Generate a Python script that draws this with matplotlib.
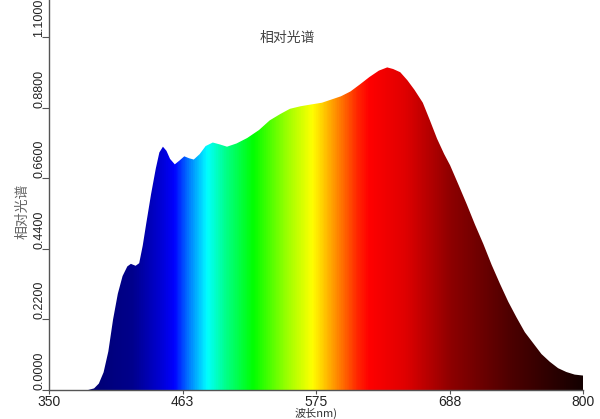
import numpy as np
import matplotlib.pyplot as plt
from matplotlib.colors import LinearSegmentedColormap
from matplotlib.patches import Polygon

# spectrum (nm, relative intensity)
wavelength = [383, 388, 392, 396, 400, 404, 408, 412, 416, 419, 423, 426, 429, 432,
              436, 440, 443, 446, 449, 452, 456, 460, 464, 468, 472, 477, 482, 488,
              494, 500, 508, 517, 527, 536, 545, 553, 562, 570, 580, 588, 596, 604,
              612, 620, 628, 635, 640, 646, 652, 658, 665, 671, 677, 683, 688, 695,
              702, 709, 716, 723, 730, 737, 744, 751, 758, 765, 772, 779, 786, 793, 800]
intensity = [0.0, 0.005, 0.02, 0.055, 0.12, 0.22, 0.30, 0.355, 0.385, 0.393, 0.387, 0.395,
             0.45, 0.52, 0.61, 0.69, 0.74, 0.758, 0.745, 0.72, 0.703, 0.715, 0.728, 0.722,
             0.718, 0.735, 0.76, 0.771, 0.765, 0.758, 0.768, 0.785, 0.81, 0.84, 0.86,
             0.876, 0.884, 0.889, 0.895, 0.905, 0.915, 0.93, 0.952, 0.975, 0.995, 1.005,
             1.0, 0.99, 0.965, 0.935, 0.895, 0.84, 0.783, 0.735, 0.70, 0.64, 0.579, 0.515,
             0.455, 0.39, 0.331, 0.275, 0.226, 0.18, 0.146, 0.112, 0.088, 0.068, 0.056,
             0.048, 0.045]

x_ticks = [350, 462.5, 575, 687.5, 800]
x_tick_labels = ['350', '463', '575', '688', '800']
y_ticks = [0.0, 0.22, 0.44, 0.66, 0.88, 1.10]
y_tick_labels = ['0.0000', '0.2200', '0.4400', '0.6600', '0.8800', '1.1000']

# colour of the light along the wavelength axis
color_stops = [(350, (0, 0, 0.45)), (385, (0, 0, 0.45)), (420, (0, 0, 0.55)),
               (445, (0, 0, 0.85)), (455, (0, 0, 1)), (468, (0, 0.5, 1)),
               (483, (0, 1, 1)), (500, (0, 1, 0.5)), (522, (0, 1, 0)),
               (550, (0.6, 1, 0)), (572, (1, 1, 0)), (590, (1, 0.6, 0)),
               (610, (1, 0.15, 0)), (620, (1, 0, 0)), (650, (0.88, 0, 0)),
               (690, (0.55, 0, 0)), (740, (0.3, 0, 0)), (800, (0.08, 0, 0))]
cmap = LinearSegmentedColormap.from_list(
    'spec', [((w - 350) / 450, c) for w, c in color_stops])

cjk = ['Noto Sans CJK SC', 'DejaVu Sans']
plt.rcParams['font.family'] = ['Liberation Sans', 'DejaVu Sans']

fig = plt.figure(figsize=(6, 4.19), dpi=100)
ax = fig.add_axes([49/600, 29/419, 534/600, 390/419])
ax.set_xlim(350, 800)
ax.set_ylim(0, 1.215)

# rainbow gradient clipped to the area under the curve
grad = np.linspace(350, 800, 900).reshape(1, -1)
im = ax.imshow(grad, extent=[350, 800, 0, 1.25], aspect='auto', cmap=cmap,
               vmin=350, vmax=800, interpolation='bilinear', zorder=1)
verts = np.column_stack([[wavelength[0]] + wavelength + [wavelength[-1]],
                         [0] + intensity + [0]])
area = Polygon(verts, closed=True, facecolor='none', edgecolor='none')
ax.add_patch(area)
im.set_clip_path(area)

for s in ['top', 'right']:
    ax.spines[s].set_visible(False)
for s in ['left', 'bottom']:
    ax.spines[s].set_color('#555555')
    ax.spines[s].set_linewidth(1.0)
    ax.spines[s].set_zorder(3)

ax.set_xticks(x_ticks)
ax.set_xticklabels(x_tick_labels)
ax.set_yticks(y_ticks)
ax.set_yticklabels(y_tick_labels)
ax.tick_params(axis='x', direction='out', length=3, width=0.8, color='#555555',
               labelsize=10, pad=0.5, labelcolor='#222222')
ax.tick_params(axis='y', direction='out', length=5, width=0.8, color='#555555',
               labelsize=9, pad=-2.5, labelcolor='#222222')
for lbl in ax.get_yticklabels():
    lbl.set_rotation(90)
    lbl.set_va('bottom')
    lbl.set_ha('right')

fig.text(287/600, 1 - 38/419, '相对光谱', ha='center', va='center',
         fontsize=10, color='#444444', family=cjk)
fig.text(22/600, 1 - 211/419, '相对光谱', ha='center', va='center', rotation=90,
         fontsize=10, color='#666666', family=cjk)
fig.text(316/600, 0.5/419, '波长nm)', ha='center', va='bottom',
         fontsize=8, color='#333333', family=cjk)

fig.savefig('out.png', dpi=100)
